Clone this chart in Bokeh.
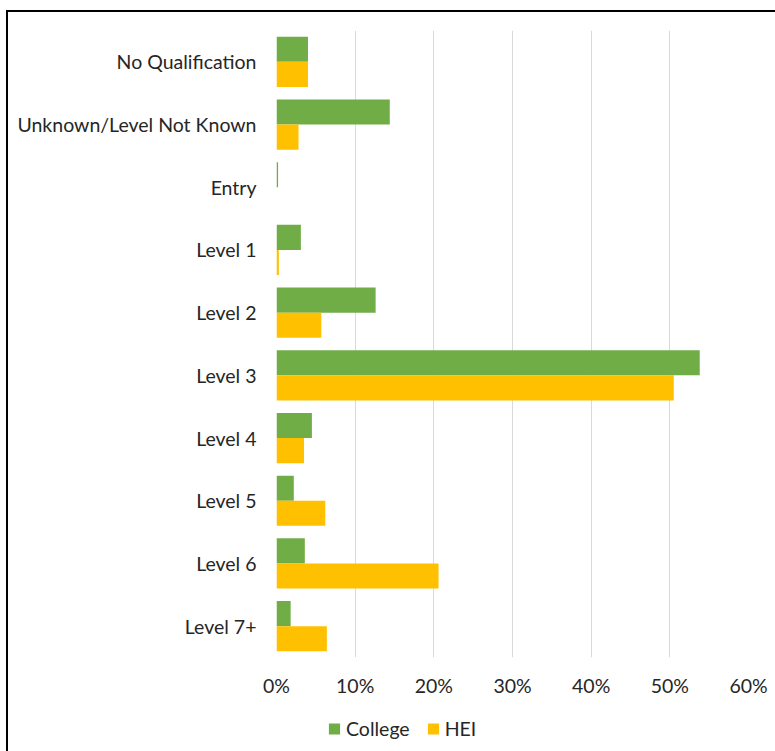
from bokeh.plotting import figure
from bokeh.layouts import column
from bokeh.models import (FactorRange, Range1d, FixedTicker, NumeralTickFormatter,
                          Legend, LegendItem, ColumnDataSource)
from bokeh.transform import dodge
from bokeh.embed import file_html
from bokeh.resources import INLINE

categories = ["No Qualification", "Unknown/Level Not Known", "Entry", "Level 1",
              "Level 2", "Level 3", "Level 4", "Level 5", "Level 6", "Level 7+"]
college = [0.040, 0.144, 0.002, 0.031, 0.126, 0.538, 0.045, 0.022, 0.036, 0.018]
hei = [0.040, 0.028, 0.0, 0.003, 0.057, 0.505, 0.035, 0.062, 0.206, 0.064]
x_ticks = [0, 0.1, 0.2, 0.3, 0.4, 0.5, 0.6]
series_names = ["College", "HEI"]
colors = ["#70AD47", "#FFC000"]

FONT = "Lato"
FS = "19.5px"
TXT = "#262626"

source = ColumnDataSource(dict(cat=categories, college=college, hei=hei))

# ---- main bar chart ----
p = figure(width=775, height=705, output_backend="svg", toolbar_location=None,
           y_range=FactorRange(factors=list(reversed(categories)), range_padding=0),
           x_range=Range1d(0, 0.6),
           min_border_left=276, min_border_right=27, min_border_top=30, min_border_bottom=48)
p.outline_line_color = None
p.background_fill_color = "white"
p.border_fill_color = None

p.hbar(y=dodge("cat", 0.2, range=p.y_range), right="college", height=0.4, left=0,
       source=source, fill_color=colors[0], line_color=None)
p.hbar(y=dodge("cat", -0.2, range=p.y_range), right="hei", height=0.4, left=0,
       source=source, fill_color=colors[1], line_color=None)

p.xaxis.ticker = FixedTicker(ticks=x_ticks)
p.xaxis.formatter = NumeralTickFormatter(format="0%")
for ax in (p.xaxis[0], p.yaxis[0]):
    ax.axis_line_color = None
    ax.major_tick_line_color = None
    ax.minor_tick_line_color = None
    ax.major_label_text_font = FONT
    ax.major_label_text_font_size = FS
    ax.major_label_text_color = TXT
p.xaxis.major_label_standoff = 10
p.yaxis.major_label_standoff = 14

p.xgrid.grid_line_color = "#d9d9d9"
p.xgrid.grid_line_width = 1
p.ygrid.grid_line_color = None

# ---- legend strip below the chart ----
q = figure(width=775, height=46, output_backend="svg", toolbar_location=None,
           x_range=Range1d(0, 1), y_range=Range1d(0, 1),
           x_axis_type=None, y_axis_type=None,
           min_border_left=0, min_border_right=0, min_border_top=0, min_border_bottom=0)
q.grid.visible = False
q.outline_line_color = None
q.background_fill_color = None
q.border_fill_color = None
# zero-size swatch renderers: only their styles are used, for the legend keys
swatch = ColumnDataSource(dict(y=[0], right=[0]))
l1 = q.hbar(y="y", right="right", left=0, height=0, source=swatch,
            fill_color=colors[0], line_color=None)
l2 = q.hbar(y="y", right="right", left=0, height=0, source=swatch,
            fill_color=colors[1], line_color=None)
legend = Legend(items=[LegendItem(label=series_names[0], renderers=[l1]),
                       LegendItem(label=series_names[1], renderers=[l2])],
                orientation="horizontal", location="left",
                label_text_font=FONT, label_text_font_size=FS, label_text_color=TXT,
                glyph_width=14, glyph_height=14, label_standoff=5, spacing=16,
                padding=0, margin=51, border_line_color=None, background_fill_alpha=0)
q.add_layout(legend, "center")

layout = column(p, q, spacing=0)
# outer chart-area border (left and top edges visible; right/bottom lie outside the crop)
layout.styles = {"box-shadow": "inset 6px 10px 0 0 white, inset 8px 12px 0 0 black"}

open("out.html", "w").write(file_html(layout, INLINE))
